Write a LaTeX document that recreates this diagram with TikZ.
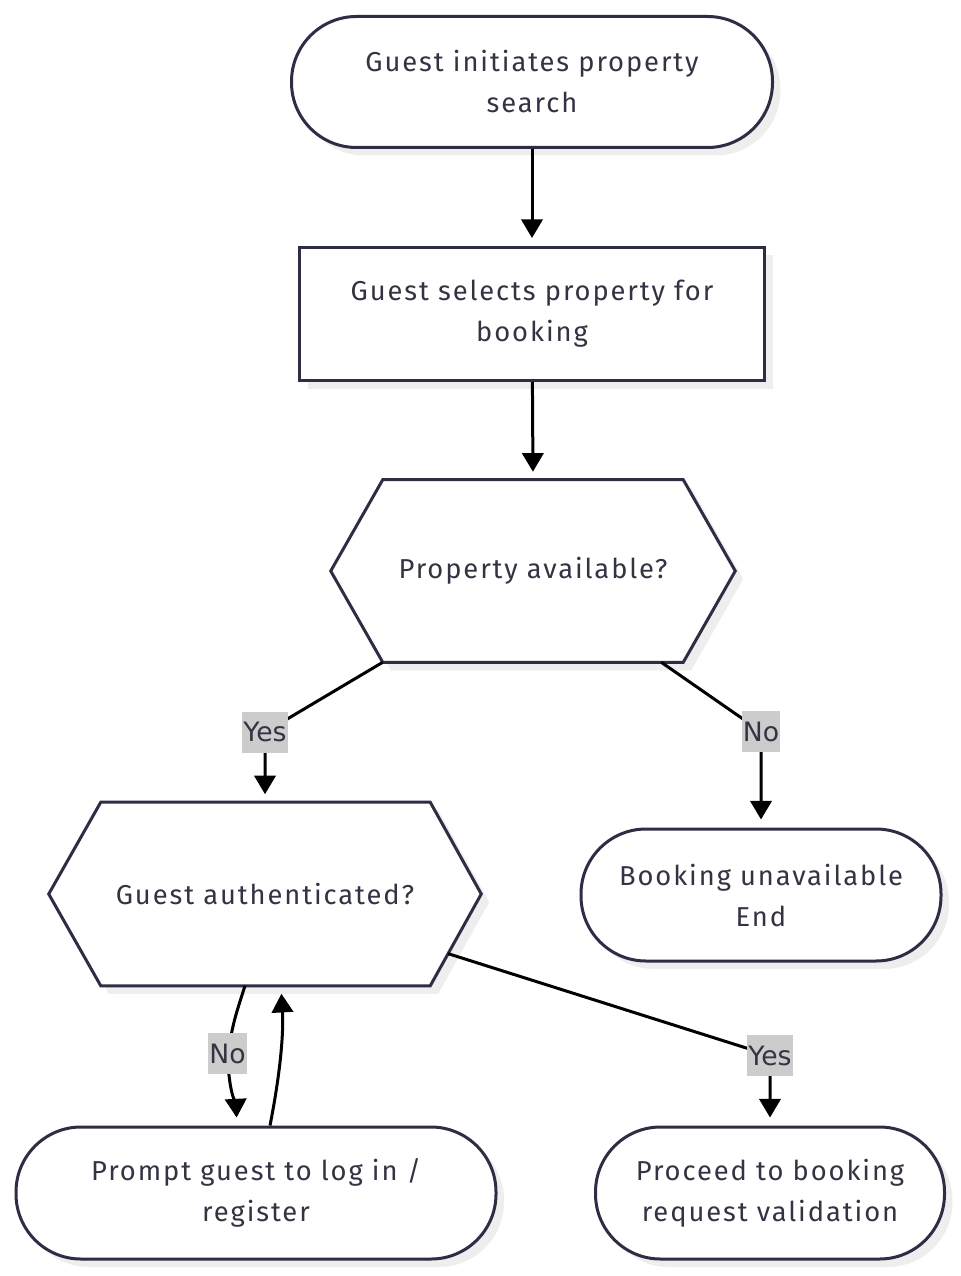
\documentclass[tikz,border=0pt]{standalone}
\usepackage{fontspec}
\setmainfont{Fira Sans}[LetterSpace=7]
\newfontfamily\lblfont{DejaVu Sans}
\usetikzlibrary{arrows.meta,calc,shadows,backgrounds}

\definecolor{inkline}{HTML}{2D2D44}
\definecolor{inktext}{HTML}{333344}
\definecolor{lblgray}{HTML}{CCCCCC}
\definecolor{shadowgray}{HTML}{EEEEEE}

\tikzset{
  myshadow/.style={drop shadow={shadow xshift=6pt, shadow yshift=-6pt, fill=shadowgray, opacity=1}},
  txt/.style={font=\fontsize{20.5}{30.75}\selectfont, text=inktext, align=center},
  termbox/.style={txt, draw=inkline, line width=2.25pt, fill=white, myshadow, rounded corners=0.75*65pt},
  stepbox/.style={txt, draw=inkline, line width=2.25pt, fill=white, myshadow, rectangle},
  hexbox/.style={txt, rectangle},
  hexline/.style={draw=inkline, line width=2.25pt, fill=white, myshadow, line join=miter},
  flow/.style={line width=2.25pt, -{Triangle[width=16pt,length=14pt]}, shorten >=6pt},
  lbl/.style={font=\lblfont\fontsize{20}{22}\selectfont, text=inktext, fill=lblgray, inner xsep=1pt, inner ysep=2pt, minimum height=31pt}
}

\begin{document}
\begin{tikzpicture}[x=0.75pt,y=-0.75pt]
    \useasboundingbox (0,0) rectangle (960,1276);

    % Start
    \node[termbox, minimum width=0.75*481pt, minimum height=0.75*131pt] (start) at (532,82)
        {Guest initiates property\\search};

    % Select property
    \node[stepbox, minimum width=0.75*465pt, minimum height=0.75*133pt] (select) at (532,314)
        {Guest selects property for\\booking};

    % Availability check
    \node[hexbox, minimum width=0.75*404pt, minimum height=0.75*182pt] (avail) at (533,571)
        {Property available?};

    % Authentication check
    \node[hexbox, minimum width=0.75*432pt, minimum height=0.75*183pt] (auth) at (265,894)
        {Guest authenticated?};

    % Hexagon outlines
    \begin{pgfonlayer}{background}
        \draw[hexline] (avail.west) -- ($(avail.north west)+(52,0)$) -- ($(avail.north east)+(-52,0)$)
            -- (avail.east) -- ($(avail.south east)+(-52,0)$) -- ($(avail.south west)+(52,0)$) -- cycle;
        \draw[hexline] (auth.west) -- ($(auth.north west)+(52,0)$) -- ($(auth.north east)+(-51,0)$)
            -- (auth.east) -- ($(auth.south east)+(-51,0)$) -- ($(auth.south west)+(52,0)$) -- cycle;
    \end{pgfonlayer}

    % Outcomes
    \node[termbox, minimum width=0.75*360pt, minimum height=0.75*132pt] (unavail) at (761,895)
        {Booking unavailable\\End};
    \node[termbox, minimum width=0.75*480pt, minimum height=0.75*132pt] (prompt) at (256,1193)
        {Prompt guest to log in /\\register};
    \node[termbox, minimum width=0.75*349pt, minimum height=0.75*132pt] (proceed) at (770,1193)
        {Proceed to booking\\request validation};

    % Connections
    \draw[flow] (start) -- (select);
    \draw[flow] (select) -- (avail.north);

    \draw[flow] ($(avail.south west)+(52,0)$) -- ($(auth.north)+(0,-70)$)
        node[lbl] (yesA) {Yes} -- (auth.north);
    \draw[flow] ($(avail.south east)+(-74,0)$) -- ($(unavail.north)+(0,-96)$)
        node[lbl] (noA) {No} -- (unavail.north);

    \coordinate (auth-se) at ($(auth.south east)+(-51,0)$);
    \draw[flow] ($(auth.east)!0.65!(auth-se)$) -- ($(proceed.north)+(0,-70)$)
        node[lbl] (yesB) {Yes} -- (proceed.north);

    \coordinate (noB-at) at ($(auth.south)!0.5!(prompt.north)+(-33,-2)$);
    \draw[flow] ($(auth.south)+(-20,0)$) .. controls (234,1020) .. (noB-at)
        node[lbl] (noB) {No} .. controls (229,1095) and (236,1105) .. ($(prompt.north)+(-19,0)$);
    \draw[flow] ($(prompt.north)+(14,0)$) .. controls (278,1085) and (284,1040) .. ($(auth.south)+(16,0)$);

\end{tikzpicture}
\end{document}
